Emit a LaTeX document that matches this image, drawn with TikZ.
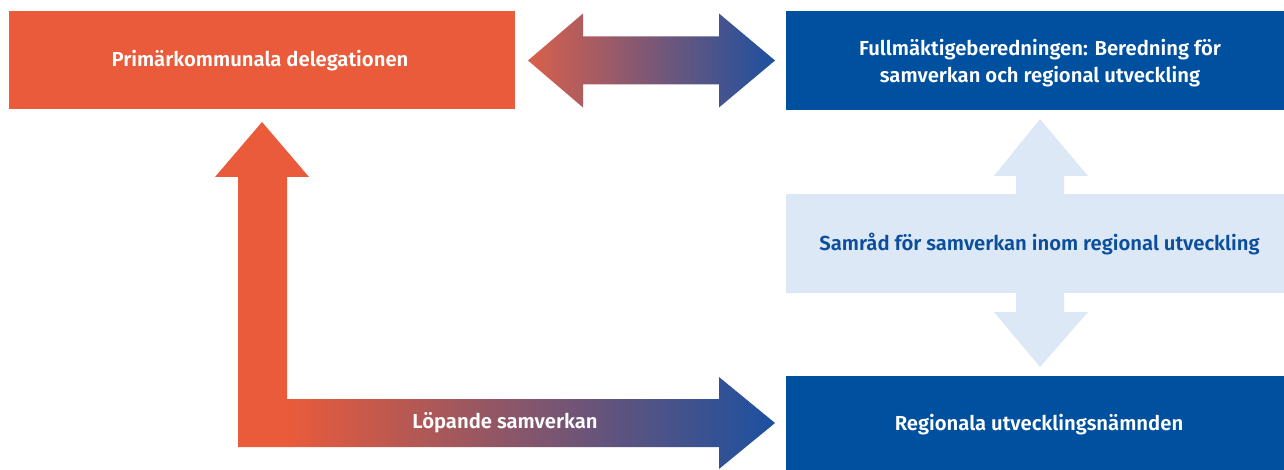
\documentclass[tikz,border=0pt]{standalone}
\usepackage{fontspec}
\setmainfont{Fira Sans}[BoldFont={Fira Sans SemiBold}]
\usetikzlibrary{calc}
\definecolor{orng}{RGB}{233,91,58}
\definecolor{orngs}{RGB}{217,96,76}
\definecolor{blu}{RGB}{0,80,160}
\definecolor{blus}{RGB}{28,80,160}
\definecolor{lite}{RGB}{220,232,246}
\definecolor{dblu}{RGB}{11,78,155}
\begin{document}
\begin{tikzpicture}[x=0.75pt,y=-0.75pt,
  box/.style={inner sep=0pt,outer sep=0pt},
  lbl/.style={inner sep=0pt,font=\bfseries\fontsize{15.2}{20.25}\selectfont,align=center}]
\fill[white] (0,0) rectangle (1284,470);
\useasboundingbox (0,0) rectangle (1284,470);
% boxes
\node[box,fill=orng,minimum width=379.5pt,minimum height=73.5pt] (pk) at (262,60.5) {};
\node[box,fill=blu,minimum width=373.5pt,minimum height=74.25pt] (fb) at (1035,60.5) {};
\node[box,fill=lite,minimum width=373.5pt,minimum height=74.25pt] (sa) at (1035,243.5) {};
\node[box,fill=blu,minimum width=373.5pt,minimum height=70.5pt] (ru) at (1035,423) {};
% top double arrow
\coordinate (tl) at ($(pk.east)+(13,0)$);
\coordinate (tr) at ($(fb.west)+(-11,0)$);
\path[left color=orngs,right color=blus]
  (tl) -- ++(55,-47) -- ++(0,23) -- ++(136,0) -- ++(0,-23) -- (tr)
  -- ++(-56,47) -- ++(0,-23) -- ++(-136,0) -- ++(0,23) -- cycle;
% vertical light double arrow
\coordinate (vt) at (1040,119);
\coordinate (vb) at (1040,367);
\fill[lite] (vt) -- ++(48,57) -- ++(-24,0) -- ++(0,136) -- ++(24,0) -- (vb)
  -- ++(-46,-55) -- ++(22,0) -- ++(0,-136) -- ++(-22,0) -- cycle;
% L arrow
\coordinate (ut) at (262,122);
\coordinate (rt) at (775,423);
\fill[orng] (ut) -- (309,177) -- (287,177) -- (287,447) -- (238,447) -- (238,177) -- (215,177) -- cycle;
\path[left color=orng,right color=blus]
  (287,399) -- (719,399) -- (719,377) -- (rt) -- (719,469) -- (719,447) -- (287,447) -- cycle;
% texts
\node[lbl,text=white] (pkt) at (260,61) {Primärkommunala delegationen};
\node[lbl,text=white] (fbt) at (1040,63) {Fullmäktigeberedningen: Beredning för\\samverkan och regional utveckling};
\node[lbl,text=dblu] (sat) at (1039.5,244) {Samråd för samverkan inom regional utveckling};
\node[lbl,text=white] (rut) at (1039,425) {Regionala utvecklingsnämnden};
\node[lbl,text=white] (lst) at (505,423) {Löpande samverkan};
\end{tikzpicture}
\end{document}
